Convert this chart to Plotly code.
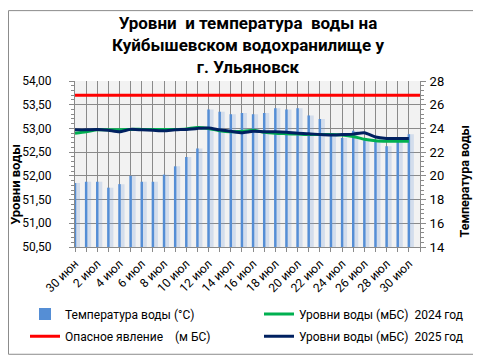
import plotly.graph_objects as go

# ---- data ----
dates = ["30 июн", "1 июл", "2 июл", "3 июл", "4 июл", "5 июл", "6 июл", "7 июл",
         "8 июл", "9 июл", "10 июл", "11 июл", "12 июл", "13 июл", "14 июл", "15 июл",
         "16 июл", "17 июл", "18 июл", "19 июл", "20 июл", "21 июл", "22 июл", "23 июл",
         "24 июл", "25 июл", "26 июл", "27 июл", "28 июл", "29 июл", "30 июл", "31 июл"]
tick_labels = ["30 июн", "", "2 июл", "", "4 июл", "", "6 июл", "", "8 июл", "",
               "10 июл", "", "12 июл", "", "14 июл", "", "16 июл", "", "18 июл", "",
               "20 июл", "", "22 июл", "", "24 июл", "", "26 июл", "", "28 июл", "",
               "30 июл", ""]

water_temp = [19.4, 19.5, 19.5, 19.0, 19.3, 20.0, 19.5, 19.5, 20.1, 20.8, 21.6, 22.3,
              25.6, 25.4, 25.2, 25.3, 25.2, 25.3, 25.7, 25.6, 25.7, 25.1, 24.8, 23.5,
              23.2, 23.8, 23.0, 23.0, 22.5, 22.9, 23.5]

level_2024 = [52.90, 52.93, 52.97, 52.97, 52.97, 52.98, 52.98, 52.98, 52.98, 52.98,
              52.99, 53.02, 53.00, 52.95, 52.93, 52.94, 52.96, 52.92, 52.90, 52.89,
              52.88, 52.87, 52.87, 52.87, 52.86, 52.83, 52.77, 52.74, 52.73, 52.73, 52.73]

level_2025 = [52.97, 52.97, 52.98, 52.96, 52.93, 52.98, 52.97, 52.96, 52.95, 52.97,
              52.98, 53.00, 53.01, 52.97, 52.94, 52.91, 52.94, 52.93, 52.93, 52.92,
              52.90, 52.89, 52.87, 52.86, 52.87, 52.88, 52.91, 52.82, 52.79, 52.79, 52.79]

danger_level = [53.7, 53.7, 53.7, 53.7, 53.7, 53.7, 53.7, 53.7, 53.7, 53.7, 53.7,
                53.7, 53.7, 53.7, 53.7, 53.7, 53.7, 53.7, 53.7, 53.7, 53.7, 53.7,
                53.7, 53.7, 53.7, 53.7, 53.7, 53.7, 53.7, 53.7, 53.7, 53.7]

title_text = "Уровни  и температура  воды на<br>Куйбышевском водохранилище у<br>г. Ульяновск"

# ---- layout geometry ----
W, H = 481, 355
ML, MR, MT, MB = 67, 69, 73, 111
PW = W - ML - MR
PH = H - MT - MB


def px_x(px):
    return (px - ML) / PW


def px_y(py):
    return (H - MB - py) / PH


FONT = "Roboto"
GRID = "#8a8a8a"

fig = go.Figure()

# soft glow behind bars
fig.add_trace(go.Bar(x=dates[:len(water_temp)], y=water_temp, yaxis="y",
                     width=0.55, marker=dict(color="rgba(120,160,220,0.25)", line_width=0),
                     showlegend=False, hoverinfo="skip", offset=-0.1))
fig.add_trace(go.Bar(x=dates[:len(water_temp)], y=water_temp, yaxis="y",
                     name="Температура воды (°С)", width=0.22, legend="legend",
                     marker=dict(color="#558ed5", line_width=0)))
fig.add_trace(go.Scatter(x=dates[:len(level_2024)], y=level_2024, yaxis="y2",
                         mode="lines", name="Уровни воды (мБС)  2024 год", legend="legend2",
                         line=dict(color="#00b050", width=3, shape="spline", smoothing=0.6)))
fig.add_trace(go.Scatter(x=dates, y=danger_level, yaxis="y2", mode="lines",
                         name="Опасное явление    (м БС)", legend="legend3",
                         line=dict(color="#ff0000", width=3)))
fig.add_trace(go.Scatter(x=dates[:len(level_2025)], y=level_2025, yaxis="y2",
                         mode="lines", name="Уровни воды (мБС)  2025 год", legend="legend4",
                         line=dict(color="#002060", width=3, shape="spline", smoothing=0.6)))


def leg(px, py):
    return dict(x=px_x(px), xanchor="left", y=px_y(py), yanchor="middle",
                font=dict(size=12), bgcolor="rgba(0,0,0,0)", itemwidth=30)


fig.update_layout(
    width=W, height=H,
    margin=dict(l=ML, r=MR, t=MT, b=MB),
    paper_bgcolor="white", plot_bgcolor="#f2f2f2",
    separators=", ",
    barmode="overlay",
    font=dict(family=FONT, size=12, color="#000000"),
    xaxis=dict(type="category", categoryorder="array", categoryarray=dates,
               range=[0, len(dates) - 1],
               tickmode="array", tickvals=dates, ticktext=tick_labels,
               tickangle=-45, tickfont=dict(size=12),
               showgrid=True, gridcolor=GRID, gridwidth=1,
               ticks="outside", ticklen=4, tickcolor=GRID,
               showline=True, linecolor=GRID, linewidth=1, zeroline=False),
    yaxis=dict(side="right", range=[14, 28], dtick=2, tickfont=dict(size=13),
               showgrid=True, gridcolor=GRID, gridwidth=1,
               ticks="outside", ticklen=5, tickcolor=GRID,
               minor=dict(dtick=0.4, ticks="outside", ticklen=3, tickcolor=GRID, showgrid=False),
               showline=True, linecolor=GRID, linewidth=1, zeroline=False,
               ticklabelstandoff=1),
    yaxis2=dict(side="left", overlaying="y", range=[50.5, 54.0], dtick=0.5,
                tickformat=".2f", tickfont=dict(size=12),
                showgrid=False,
                ticks="outside", ticklen=5, tickcolor=GRID,
                minor=dict(dtick=0.1, ticks="outside", ticklen=3, tickcolor=GRID, showgrid=False),
                showline=True, linecolor=GRID, linewidth=1, zeroline=False,
                ticklabelstandoff=15),
    legend=leg(17, 313),
    legend2=leg(251, 313),
    legend3=leg(17, 336),
    legend4=leg(251, 336),
    annotations=[
        dict(text="<b>" + title_text + "</b>", x=0.5, y=px_y(36), xref="paper", yref="paper",
             xanchor="center", yanchor="middle", showarrow=False,
             font=dict(size=17, color="#000000")),
        dict(text="<b>Уровни воды</b>", textangle=-90, x=px_x(8), y=px_y(180),
             xref="paper", yref="paper", xanchor="center", yanchor="middle",
             showarrow=False, font=dict(size=13)),
        dict(text="<b>Температура воды</b>", textangle=-90, x=px_x(466), y=px_y(177),
             xref="paper", yref="paper", showarrow=False, font=dict(size=12.5)),
    ],
    shapes=[dict(type="rect", xref="paper", yref="paper",
                 x0=px_x(0.5), x1=px_x(480.5), y0=px_y(354.5), y1=px_y(0.5),
                 line=dict(color="#8c8c8c", width=1), fillcolor="rgba(0,0,0,0)", layer="below")],
)

fig.write_html("out.html")
